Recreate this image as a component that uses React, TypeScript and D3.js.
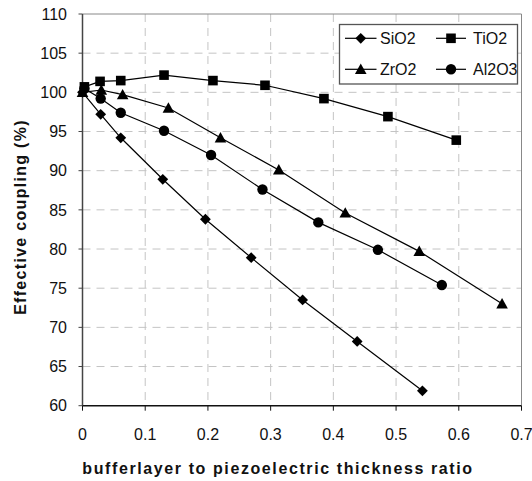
import React from "react";
import * as d3 from "d3";

const sio2X = [0, 0.029, 0.061, 0.128, 0.196, 0.269, 0.351, 0.438, 0.542];
const sio2Y = [100, 97.2, 94.2, 88.9, 83.8, 78.9, 73.5, 68.2, 61.9];
const tio2X = [0.003, 0.028, 0.061, 0.13, 0.208, 0.291, 0.385, 0.487, 0.596];
const tio2Y = [100.7, 101.4, 101.5, 102.2, 101.5, 100.9, 99.2, 96.9, 93.9];
const zro2X = [0, 0.03, 0.064, 0.137, 0.22, 0.313, 0.419, 0.537, 0.669];
const zro2Y = [100, 100.3, 99.7, 98.0, 94.2, 90.1, 84.6, 79.7, 73.0];
const al2o3X = [0.003, 0.029, 0.061, 0.13, 0.205, 0.287, 0.376, 0.471, 0.573];
const al2o3Y = [100.5, 99.2, 97.4, 95.1, 92.0, 87.6, 83.4, 79.9, 75.4];

const xTicks = [0, 0.1, 0.2, 0.3, 0.4, 0.5, 0.6, 0.7];
const yTicks = [60, 65, 70, 75, 80, 85, 90, 95, 100, 105, 110];

const seriesNames = ["SiO2", "TiO2", "ZrO2", "Al2O3"];
const seriesMarkers = ["diamond", "square", "triangle", "circle"];

const W = 532;
const H = 481;
const left = 82.5;
const right = 521.5;
const top = 14;
const bottom = 405.7;

const font = "'Liberation Sans', Arial, sans-serif";

function Marker({ kind, x, y }: { kind: string; x: number; y: number }) {
  if (kind === "diamond") {
    const s = 5.4;
    return <path d={`M${x},${y - s}L${x + s},${y}L${x},${y + s}L${x - s},${y}Z`} fill="#000" />;
  }
  if (kind === "square") {
    const s = 4.8;
    return <rect x={x - s} y={y - s} width={2 * s} height={2 * s} fill="#000" />;
  }
  if (kind === "triangle") {
    const s = 5.8;
    return <path d={`M${x},${y - s}L${x + s},${y + s * 0.8}L${x - s},${y + s * 0.8}Z`} fill="#000" />;
  }
  return <circle cx={x} cy={y} r={5.2} fill="#000" />;
}

export default function App() {
  const xs = d3.scaleLinear().domain([0, 0.7]).range([left, right]);
  const ys = d3.scaleLinear().domain([60, 110]).range([bottom, top]);
  const data = [
    { x: sio2X, y: sio2Y },
    { x: tio2X, y: tio2Y },
    { x: zro2X, y: zro2Y },
    { x: al2o3X, y: al2o3Y },
  ];
  const line = d3
    .line<[number, number]>()
    .x((d) => xs(d[0]))
    .y((d) => ys(d[1]));

  const legendRows = [38.3, 69.3];
  const legendLines = [
    [345, 376.5, 380],
    [436, 466, 473],
  ];

  return (
    <svg width={W} height={H} style={{ position: "absolute", left: 0, top: 0, background: "#fff" }}>
      <rect x={0} y={0} width={W} height={H} fill="#fff" />
      {/* grid */}
      {xTicks.slice(1, -1).map((t) => (
        <line key={"gx" + t} x1={xs(t)} x2={xs(t)} y1={top} y2={bottom} stroke="#c4c4c4" strokeWidth={1} strokeDasharray="8,6" />
      ))}
      {yTicks.slice(1, -1).map((t) => (
        <line key={"gy" + t} x1={left} x2={right} y1={ys(t)} y2={ys(t)} stroke="#c4c4c4" strokeWidth={1} strokeDasharray="8,6" />
      ))}
      {/* frame top/right */}
      <line x1={left} x2={right} y1={top} y2={top} stroke="#888" strokeWidth={1} />
      <line x1={right} x2={right} y1={top} y2={bottom} stroke="#888" strokeWidth={1} />
      {/* axes */}
      <line x1={left} x2={left} y1={top} y2={bottom} stroke="#444" strokeWidth={1.5} />
      <line x1={left} x2={right} y1={bottom} y2={bottom} stroke="#111" strokeWidth={1.5} />
      {yTicks.map((t) => (
        <g key={"yt" + t}>
          <line x1={left - 4} x2={left} y1={ys(t)} y2={ys(t)} stroke="#444" strokeWidth={1} />
          <text x={67} y={ys(t)} dy="0.36em" textAnchor="end" fontFamily={font} fontSize={16} fill="#111">
            {t}
          </text>
        </g>
      ))}
      {xTicks.map((t) => (
        <g key={"xt" + t}>
          <line x1={xs(t)} x2={xs(t)} y1={bottom} y2={bottom + 5} stroke="#111" strokeWidth={1} />
          <text x={xs(t)} y={440} textAnchor="middle" fontFamily={font} fontSize={16} fill="#111">
            {t}
          </text>
        </g>
      ))}
      {/* series */}
      {data.map((s, i) => {
        const pts: [number, number][] = s.x.map((v, j) => [v, s.y[j]]);
        return (
          <g key={"s" + i}>
            <path d={line(pts) || ""} fill="none" stroke="#000" strokeWidth={1.2} />
            {pts.map((p, j) => (
              <Marker key={j} kind={seriesMarkers[i]} x={xs(p[0])} y={ys(p[1])} />
            ))}
          </g>
        );
      })}
      {/* legend */}
      <rect x={339.5} y={24.5} width={178} height={59.5} fill="#fff" stroke="#555" strokeWidth={1.3} />
      {seriesNames.map((n, i) => {
        const [lx1, lx2, tx] = legendLines[i % 2];
        const cy = legendRows[Math.floor(i / 2)];
        return (
          <g key={"lg" + n}>
            <line x1={lx1} x2={lx2} y1={cy} y2={cy} stroke="#000" strokeWidth={1.2} />
            <Marker kind={seriesMarkers[i]} x={(lx1 + lx2) / 2} y={cy} />
            <text x={tx} y={cy} dy="0.36em" fontFamily={font} fontSize={16} fill="#111">
              {n}
            </text>
          </g>
        );
      })}
      {/* titles */}
      <text
        transform={`translate(26,217) rotate(-90)`}
        textAnchor="middle"
        fontFamily={font}
        fontSize={16}
        fontWeight="bold"
        letterSpacing={1.3}
        fill="#111"
      >
        Effective coupling (%)
      </text>
      <text x={278} y={474} textAnchor="middle" fontFamily={font} fontSize={16} fontWeight="bold" letterSpacing={1.6} fill="#111">
        bufferlayer to piezoelectric thickness ratio
      </text>
    </svg>
  );
}
